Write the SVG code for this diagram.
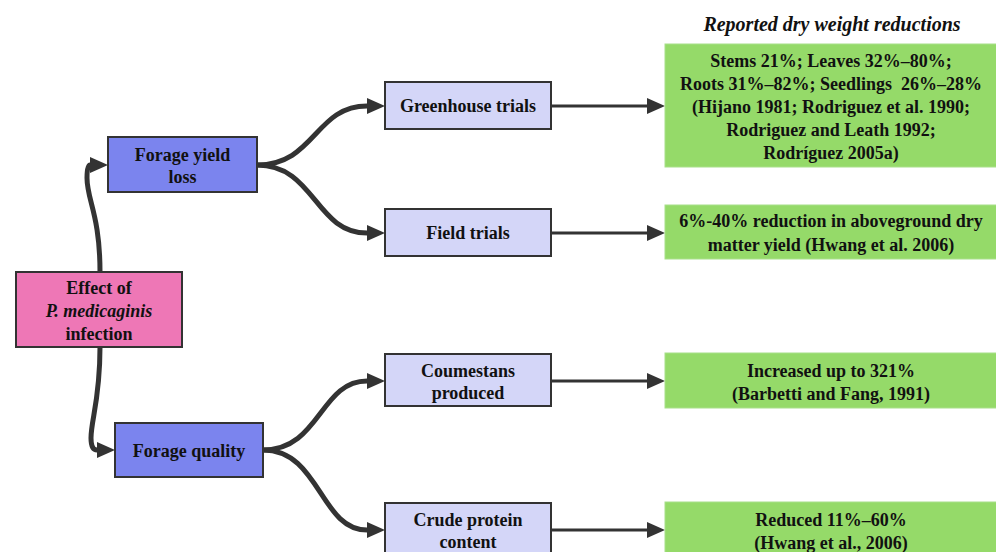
<svg xmlns="http://www.w3.org/2000/svg" width="996" height="552" viewBox="0 0 996 552">
<defs>
<style>
.t{font-family:'Liberation Serif','Times New Roman',Tinos,'DejaVu Serif',serif;font-weight:700;font-size:18px;fill:#111;text-anchor:middle}
.it{font-style:italic}
.root{fill:#ee77b6;stroke:#333;stroke-width:2}
.l1{fill:#7b84ee;stroke:#333;stroke-width:2}
.l2{fill:#d4d6f8;stroke:#333;stroke-width:2}
.res{fill:#95da69;stroke:#a8e08a;stroke-width:1}
.c{fill:none;stroke:#333;stroke-width:5}
.s{fill:none;stroke:#333;stroke-width:3}
</style>
<marker id="ah" markerUnits="userSpaceOnUse" markerWidth="18" markerHeight="16" refX="0" refY="8" orient="auto">
<path d="M0,0 L18,8 L0,16 z" fill="#333"/>
</marker>
</defs>
<rect width="996" height="552" fill="#fff"/>
<g id="connectors">
<path class="c" d="M100,272 C100,215 87,200 87,178 C87,169 88,165 90,165" marker-end="url(#ah)"/>
<path class="c" d="M100,347 C100,400 91,420 91,438 C91,446 93,450 97,450" marker-end="url(#ah)"/>
<path class="c" d="M257,165 C315,165 315,106 367,106" marker-end="url(#ah)"/>
<path class="c" d="M257,165 C315,165 315,233 367,233" marker-end="url(#ah)"/>
<path class="c" d="M263,450 C320,450 320,381 367,381" marker-end="url(#ah)"/>
<path class="c" d="M263,450 C320,450 320,530 367,530" marker-end="url(#ah)"/>
<path class="s" d="M551,106 L647,106" marker-end="url(#ah)"/>
<path class="s" d="M551,233 L647,233" marker-end="url(#ah)"/>
<path class="s" d="M551,381 L647,381" marker-end="url(#ah)"/>
<path class="s" d="M551,530 L647,530" marker-end="url(#ah)"/>
</g>
<text class="t it" x="832" y="31" font-family="Liberation Serif" style="font-size:20px">Reported dry weight reductions</text>
<g id="root">
<rect class="root" x="16" y="272" width="166" height="75"/>
<text class="t" x="99" y="294" font-family="Liberation Serif">Effect of</text>
<text class="t" x="99" y="317" font-family="Liberation Serif"><tspan class="it">P. medicaginis</tspan></text>
<text class="t" x="99" y="340" font-family="Liberation Serif">infection</text>
</g>
<g id="yield">
<rect class="l1" x="108" y="137" width="149" height="55"/>
<text class="t" x="182.5" y="161" font-family="Liberation Serif">Forage yield</text>
<text class="t" x="182.5" y="183" font-family="Liberation Serif">loss</text>
</g>
<g id="quality">
<rect class="l1" x="115" y="423" width="148" height="54"/>
<text class="t" x="189" y="457" font-family="Liberation Serif">Forage quality</text>
</g>
<g id="greenhouse">
<rect class="l2" x="385" y="82" width="166" height="47"/>
<text class="t" x="468" y="112" font-family="Liberation Serif">Greenhouse trials</text>
</g>
<g id="field">
<rect class="l2" x="385" y="209" width="166" height="47"/>
<text class="t" x="468" y="239" font-family="Liberation Serif">Field trials</text>
</g>
<g id="coumestans">
<rect class="l2" x="385" y="354" width="166" height="52"/>
<text class="t" x="468" y="377" font-family="Liberation Serif">Coumestans</text>
<text class="t" x="468" y="399" font-family="Liberation Serif">produced</text>
</g>
<g id="protein">
<rect class="l2" x="385" y="503" width="166" height="54"/>
<text class="t" x="468" y="526" font-family="Liberation Serif">Crude protein</text>
<text class="t" x="468" y="548" font-family="Liberation Serif">content</text>
</g>
<g id="res-greenhouse">
<rect class="res" x="665" y="44" width="340" height="123"/>
<text class="t" x="831" y="67" font-family="Liberation Serif">Stems 21%; Leaves 32%–80%;</text>
<text class="t" x="831" y="90" font-family="Liberation Serif" xml:space="preserve">Roots 31%–82%; Seedlings  26%–28%</text>
<text class="t" x="831" y="113" font-family="Liberation Serif">(Hijano 1981; Rodriguez et al. 1990;</text>
<text class="t" x="831" y="136" font-family="Liberation Serif">Rodriguez and Leath 1992;</text>
<text class="t" x="831" y="159" font-family="Liberation Serif">Rodríguez 2005a)</text>
</g>
<g id="res-field">
<rect class="res" x="665" y="205" width="340" height="54"/>
<text class="t" x="831" y="227" font-family="Liberation Serif">6%-40% reduction in aboveground dry</text>
<text class="t" x="831" y="251" font-family="Liberation Serif">matter yield (Hwang et al. 2006)</text>
</g>
<g id="res-coumestans">
<rect class="res" x="665" y="353" width="340" height="55"/>
<text class="t" x="831" y="377" font-family="Liberation Serif">Increased up to 321%</text>
<text class="t" x="831" y="400" font-family="Liberation Serif">(Barbetti and Fang, 1991)</text>
</g>
<g id="res-protein">
<rect class="res" x="665" y="502" width="340" height="56"/>
<text class="t" x="831" y="526" font-family="Liberation Serif">Reduced 11%–60%</text>
<text class="t" x="831" y="549" font-family="Liberation Serif">(Hwang et al., 2006)</text>
</g>
</svg>
